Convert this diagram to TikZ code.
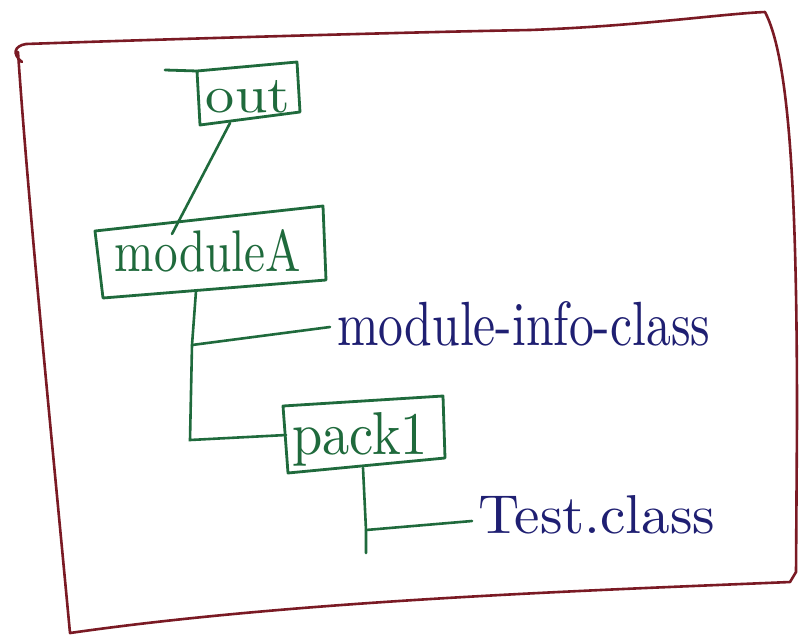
\documentclass[tikz,border=0pt]{standalone}
\usepackage{fontspec}
\usepackage{graphicx}
\definecolor{inkgreen}{HTML}{1F6A3C}
\definecolor{inkblue}{HTML}{1F1F72}
\definecolor{inkred}{HTML}{7A1A24}
\tikzset{
  frameline/.style={draw=inkred, line width=2.6pt, line join=round, line cap=round},
  boxline/.style={draw=inkgreen, line width=2.8pt, line join=round, line cap=round},
  treeline/.style={draw=inkgreen, line width=2.6pt, line cap=round},
  boxtext/.style={text=inkgreen, inner sep=0pt, anchor=base},
  leaftext/.style={text=inkblue, inner sep=0pt, anchor=base west},
}
\begin{document}
\begin{tikzpicture}[x=1pt, y=-1pt]
\useasboundingbox (0,0) rectangle (799,640);
\fill[white] (0,0) rectangle (799,640);

% outer frame
\draw[frameline] (22,62) .. controls (12,54) and (14,46) .. (26,44)
  .. controls (200,38) and (420,32) .. (530,30)
  .. controls (640,26) and (720,14) .. (765,12)
  .. controls (790,60) and (797,200) .. (797,420)
  -- (796,572) -- (790,582)
  .. controls (600,590) and (300,600) .. (70,633)
  .. controls (50,420) and (28,200) .. (18,52);

% boxes (hand-drawn quadrilaterals)
\coordinate (o1) at (197,71); \coordinate (o2) at (297,62);
\coordinate (o3) at (300,112); \coordinate (o4) at (200,125);
\draw[boxline] (o1) -- (o2) -- (o3) -- (o4) -- cycle;
\coordinate (otail) at (165,70);
\draw[boxline] (otail) -- (o1);
\node[boxtext] (out) at (248,112) {\resizebox{84pt}{32pt}{out}};

\coordinate (m1) at (95,231); \coordinate (m2) at (323,206);
\coordinate (m3) at (326,280); \coordinate (m4) at (103,298);
\draw[boxline] (m1) -- (m2) -- (m3) -- (m4) -- cycle;
\node[boxtext] (moduleA) at (208,271) {\resizebox{186pt}{42pt}{moduleA}};

\coordinate (p1) at (283,406); \coordinate (p2) at (443,396);
\coordinate (p3) at (445,458); \coordinate (p4) at (288,473);
\draw[boxline] (p1) -- (p2) -- (p3) -- (p4) -- cycle;
\node[boxtext] (pack1) at (360,454) {\resizebox{136pt}{42pt}{pack1}};

% leaf labels
\node[leaftext] (info) at (337,345) {\resizebox{373pt}{44pt}{module-info-class}};
\node[leaftext] (test) at (478,533) {\resizebox{237pt}{38pt}{Test.class}};

% tree connectors
\coordinate (outbot) at (230,123);
\coordinate (modtop) at (172,234);
\draw[treeline] (outbot) -- (modtop);

\coordinate (modbot) at (196,291);
\coordinate (j1) at (192,345);
\coordinate (j2) at (190,440);
\coordinate (packin) at (286,435);
\coordinate (infoin) at (330,327);
\draw[treeline] (modbot) -- (j1) -- (j2) -- (packin);
\draw[treeline] (j1) -- (infoin);

\coordinate (packbot) at (363,468);
\coordinate (k1) at (366,530);
\coordinate (k2) at (366,553);
\coordinate (testin) at (472,521);
\draw[treeline] (packbot) -- (k1) -- (k2);
\draw[treeline] (k1) -- (testin);
\end{tikzpicture}
\end{document}
